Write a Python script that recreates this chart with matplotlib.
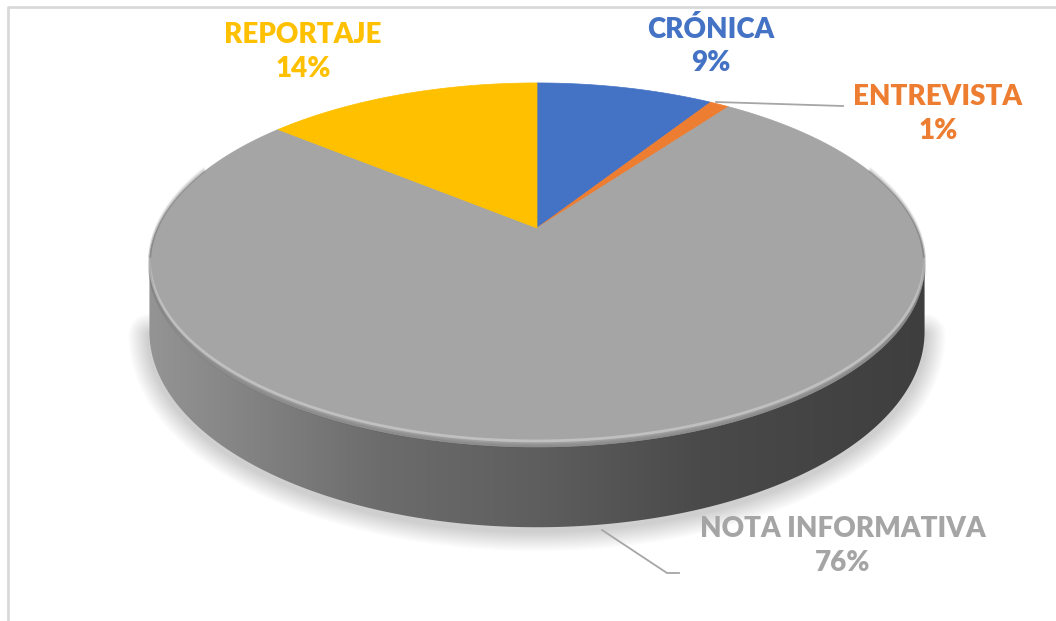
import matplotlib
matplotlib.use('Agg')
import matplotlib.pyplot as plt
import numpy as np
from matplotlib.patches import Polygon

# Data
categories = ['CRÓNICA', 'ENTREVISTA', 'NOTA INFORMATIVA', 'REPORTAJE']
values = [9, 1, 76, 14]
colors = ['#4472C4', '#ED7D31', '#A5A5A5', '#FFC000']

# Label placement (pixels) and leader lines
label_pos = {
    'CRÓNICA': (711, 46),
    'ENTREVISTA': (938, 114),
    'NOTA INFORMATIVA': (843, 546),
    'REPORTAJE': (303, 52),
}
leaders = {
    'ENTREVISTA': [(716, 102), (843, 106)],
    'NOTA INFORMATIVA': [(602, 530), (667, 573), (679, 573)],
}

# Perspective disc geometry (pixel space)
cx, cy = 537.0, 228.0
A, B, k = 379.5, 174.5, 0.203
h0 = 64.0


def proj(theta):
    # theta: clockwise from 12 o'clock, radians
    u, v = np.sin(theta), np.cos(theta)
    d = 1 + k * v
    return cx + A * u / d, cy - B * v / d


def wall_h(theta):
    return h0 / (1 + k * np.cos(theta))


fig = plt.figure(figsize=(10.56, 6.21), dpi=100)
ax = fig.add_axes([0, 0, 1, 1])
ax.set_xlim(0, 1056)
ax.set_ylim(621, 0)
ax.axis('off')

# chart frame
ax.plot([7.5, 7.5, 1056], [621, 6.5, 6.5], color='#d9d9d9', lw=2, zorder=1)

fracs = np.array(values, dtype=float) / sum(values)
bounds = np.concatenate([[0], np.cumsum(fracs)]) * 2 * np.pi

# front wall range (silhouette)
t_right = np.arccos(-k)
t_left = 2 * np.pi - t_right
tw = np.linspace(t_right, t_left, 300)
xt, yt = proj(tw)
hb = wall_h(tw)

# soft shadow under the wall
for lw in np.linspace(30, 4, 12):
    ax.plot(xt, yt + hb + 3, color='black', lw=lw, alpha=0.016,
            solid_capstyle='round', zorder=2)

# wall with horizontal gradient, clipped to the wall outline
wall = np.column_stack([np.concatenate([xt, xt[::-1]]),
                        np.concatenate([yt - 2, (yt + hb)[::-1]])])
wall_patch = Polygon(wall, closed=True, facecolor='none', edgecolor='none')
ax.add_patch(wall_patch)
gx = np.linspace(140, 940, 400)
g = np.interp(gx, [150, 380, 540, 700, 930], [0x94, 0x6c, 0x5e, 0x4a, 0x3e]) / 255.0
img = np.tile(np.stack([g, g, g], axis=-1)[None, :, :], (2, 1, 1))
im = ax.imshow(img, extent=[140, 940, 560, 240], aspect='auto', zorder=3,
               interpolation='bilinear')
im.set_clip_path(wall_patch)
ax.set_xlim(0, 1056)
ax.set_ylim(621, 0)

# top face slices
for i, cat in enumerate(categories):
    t = np.linspace(bounds[i], bounds[i + 1], max(int(fracs[i] * 400), 4))
    x, y = proj(t)
    poly = np.column_stack([np.concatenate([[cx], x]), np.concatenate([[cy], y])])
    ax.add_patch(Polygon(poly, closed=True, facecolor=colors[i], edgecolor=colors[i],
                         lw=0.5, zorder=4))

# bevel on the front rim of the top face
tr = np.linspace(np.radians(70), np.radians(290), 300)
xr, yr = proj(tr)
for off, a in [(0.5, 0.16), (2, 0.10), (3.5, 0.05)]:
    ax.plot(xr, yr - off, color='#404040', lw=2, alpha=a, zorder=5)
ax.plot(xt, yt - 6, color='white', lw=2.0, alpha=0.3, zorder=5)

# leader lines
for cat, pts in leaders.items():
    px, py = zip(*pts)
    ax.plot(px, py, color='#a6a6a6', lw=1.3, zorder=6)

# labels
for i, cat in enumerate(categories):
    x, y = label_pos[cat]
    pct = '{:.0f}%'.format(fracs[i] * 100)
    ax.text(x, y, cat + '\n' + pct, ha='center', va='center', color=colors[i],
            fontsize=20, fontweight='heavy', family='Lato', linespacing=1.35, zorder=7)

fig.savefig('out.png', dpi=100)
